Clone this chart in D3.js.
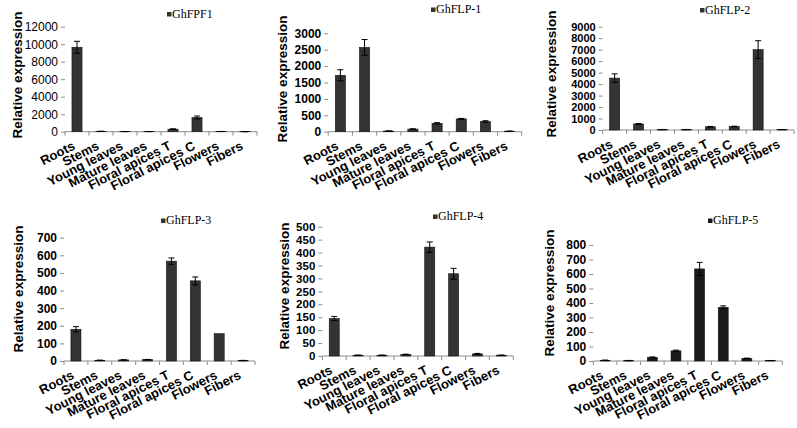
<!DOCTYPE html>
<html>
<head>
<meta charset="utf-8">
<script src="https://cdn.jsdelivr.net/npm/d3@7"></script>
<style>
  body { margin: 0; background: #fff; }
  svg { display: block; }
  .tick text { font-family: Arial, "Liberation Sans", sans-serif; }
</style>
</head>
<body>
<div id="chart"></div>
<script>
// tissues on the x axis
const tissues = ["Roots", "Stems", "Young leaves", "Mature leaves", "Floral apices T", "Floral apices C", "Flowers", "Fibers"];

const genes = ["GhFPF1", "GhFLP-1", "GhFLP-2", "GhFLP-3", "GhFLP-4", "GhFLP-5"];
const yMax = [12000, 3000, 9000, 700, 500, 800];
const yStep = [2000, 500, 1000, 100, 50, 100];

// relative expression, one array per gene
const ghFPF1 = [9650, 40, 15, 15, 290, 1620, 25, 5];
const ghFLP1 = [1720, 2570, 20, 80, 255, 390, 310, 15];
const ghFLP2 = [4520, 520, 40, 40, 280, 300, 7000, 40];
const ghFLP3 = [180, 4, 6, 8, 567, 455, 155, 3];
const ghFLP4 = [145, 3, 3, 6, 421, 318, 8, 3];
const ghFLP5 = [5, 3, 25, 70, 635, 370, 18, 3];

// standard errors
const ghFPF1Err = [680, 5, 3, 3, 40, 170, 5, 2];
const ghFLP1Err = [170, 240, 3, 8, 20, 15, 25, 3];
const ghFLP2Err = [370, 40, 5, 5, 30, 30, 780, 5];
const ghFLP3Err = [15, 1, 1, 1, 18, 22, 0, 0.5];
const ghFLP4Err = [8, 0.5, 0.5, 1, 20, 21, 2, 0.5];
const ghFLP5Err = [1, 1, 3, 5, 45, 10, 2, 0.5];

const values = [ghFPF1, ghFLP1, ghFLP2, ghFLP3, ghFLP4, ghFLP5];
const errors = [ghFPF1Err, ghFLP1Err, ghFLP2Err, ghFLP3Err, ghFLP4Err, ghFLP5Err];

// where each small chart sits on the page
const layout = [
  {x0: 65, x1: 257, y0: 131.7, yTop: 26.7, titleX: 17, titleY: 75, lx: 167, ly: 17.5, boldTicks: false, tickFont: 12, fill: "#333"},
  {x0: 328.3, x1: 521.7, y0: 131.7, yTop: 33.3, titleX: 282, titleY: 79, lx: 431, ly: 13, boldTicks: true, tickFont: 12, fill: "#333"},
  {x0: 602.7, x1: 794, y0: 130, yTop: 26.7, titleX: 551, titleY: 74, lx: 700, ly: 13.5, boldTicks: true, tickFont: 11, fill: "#333"},
  {x0: 64, x1: 255, y0: 361, yTop: 237.7, titleX: 18, titleY: 289, lx: 161, ly: 224, boldTicks: true, tickFont: 12, fill: "#333"},
  {x0: 322.3, x1: 513.3, y0: 356, yTop: 226.7, titleX: 284, titleY: 286, lx: 433, ly: 220, boldTicks: true, tickFont: 11.5, fill: "#333"},
  {x0: 593.3, x1: 782.3, y0: 361, yTop: 245, titleX: 549, titleY: 293, lx: 708, ly: 224, boldTicks: true, tickFont: 12, fill: "#1a1a1a"}
];

const width = 797;
const height = 428;
const axis_color = "#8c8c8c";
const label_angle = -27;

let svg = d3.select("#chart")
  .append("svg")
  .attr("width", width)
  .attr("height", height);

layout.forEach((p, i) => {
  let g = svg.append("g");

  let x = d3.scaleBand()
    .domain(tissues)
    .range([p.x0, p.x1])
    .paddingInner(0.58)
    .paddingOuter(0.29);

  let y = d3.scaleLinear()
    .domain([0, yMax[i]])
    .range([p.y0, p.yTop]);

  // y axis: ticks and numbers, no line
  g.append("g")
    .attr("transform", `translate(${p.x0},0)`)
    .call(d3.axisLeft(y)
      .tickValues(d3.range(0, yMax[i] + yStep[i] / 2, yStep[i]))
      .tickFormat(d3.format("d"))
      .tickSize(4)
      .tickPadding(3))
    .call(a => a.select(".domain").remove())
    .call(a => a.selectAll(".tick line").attr("stroke", axis_color))
    .call(a => a.selectAll(".tick text")
      .attr("font-size", p.tickFont)
      .attr("font-weight", p.boldTicks ? "bold" : "normal")
      .attr("fill", "#000"));

  // x axis line with ticks at the band edges
  g.append("line")
    .attr("x1", p.x0).attr("x2", p.x1)
    .attr("y1", p.y0).attr("y2", p.y0)
    .attr("stroke", axis_color);

  let step = x.step();
  g.selectAll(".xtick")
    .data(d3.range(tissues.length + 1))
    .enter()
    .append("line")
    .attr("x1", d => p.x0 + d * step)
    .attr("x2", d => p.x0 + d * step)
    .attr("y1", p.y0)
    .attr("y2", p.y0 + 4)
    .attr("stroke", axis_color);

  // bars
  let rows = tissues.map((t, k) => ({tissue: t, value: values[i][k], err: errors[i][k]}));

  g.selectAll(".bar")
    .data(rows)
    .enter()
    .append("rect")
    .attr("x", d => x(d.tissue))
    .attr("y", d => y(d.value))
    .attr("width", x.bandwidth())
    .attr("height", d => p.y0 - y(d.value))
    .attr("fill", p.fill)
    .attr("stroke", "#111")
    .attr("stroke-width", 0.6);

  // error bars
  let err_g = g.selectAll(".err")
    .data(rows.filter(d => d.err > 0))
    .enter()
    .append("g")
    .attr("stroke", "#000")
    .attr("stroke-width", 1);

  let cx = d => x(d.tissue) + x.bandwidth() / 2;
  err_g.append("line")
    .attr("x1", cx).attr("x2", cx)
    .attr("y1", d => y(d.value + d.err))
    .attr("y2", d => y(Math.max(0, d.value - d.err)));
  err_g.append("line")
    .attr("x1", d => cx(d) - 3).attr("x2", d => cx(d) + 3)
    .attr("y1", d => y(d.value + d.err)).attr("y2", d => y(d.value + d.err));
  err_g.append("line")
    .attr("x1", d => cx(d) - 3).attr("x2", d => cx(d) + 3)
    .attr("y1", d => y(Math.max(0, d.value - d.err))).attr("y2", d => y(Math.max(0, d.value - d.err)));

  // slanted tissue labels
  g.selectAll(".xlabel")
    .data(tissues)
    .enter()
    .append("text")
    .attr("transform", d => `translate(${x(d) + x.bandwidth() / 2 - 1},${p.y0 + 17}) rotate(${label_angle})`)
    .attr("text-anchor", "end")
    .attr("font-family", "Arial, 'Liberation Sans', sans-serif")
    .attr("font-weight", "bold")
    .attr("font-size", 13)
    .text(d => d);

  // y title
  g.append("text")
    .attr("transform", `translate(${p.titleX},${p.titleY}) rotate(-90)`)
    .attr("text-anchor", "middle")
    .attr("dy", "0.35em")
    .attr("font-family", "Arial, 'Liberation Sans', sans-serif")
    .attr("font-weight", "bold")
    .attr("font-size", 13.5)
    .text("Relative expression");

  // legend
  g.append("rect")
    .attr("x", p.lx)
    .attr("y", p.ly - 5.5)
    .attr("width", 4.5)
    .attr("height", 4.5)
    .attr("fill", p.fill);
  g.append("text")
    .attr("x", p.lx + 5)
    .attr("y", p.ly)
    .attr("font-family", "'Liberation Serif', 'DejaVu Serif', serif")
    .attr("font-size", 12)
    .text(genes[i]);
});
</script>
</body>
</html>
